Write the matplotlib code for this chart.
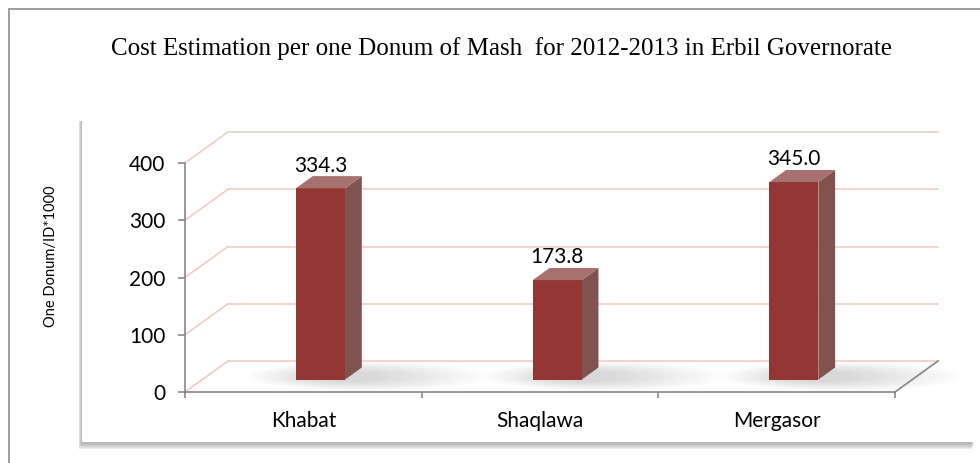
import matplotlib.pyplot as plt
from matplotlib.patches import Polygon, Rectangle, Ellipse
import numpy as np

# data
regions = ['Khabat', 'Shaqlawa', 'Mergasor']
costs = [334.3, 173.8, 345.0]
yticks = [0, 100, 200, 300, 400]
title = 'Cost Estimation per one Donum of Mash  for 2012-2013 in Erbil Governorate'
ylabel = 'One Donum/ID*1000'

W, H = 980, 463
fig = plt.figure(figsize=(W / 100, H / 100), dpi=100)
fig.patch.set_facecolor('white')

def fx(px):
    return px / W

def fy(py):
    return 1 - py / H

# outer chart frame (runs off right/bottom edge)
fig.patches.append(Rectangle((fx(9), fy(H + 20)), fx(W + 20), fy(9) - fy(H + 20),
                             transform=fig.transFigure, fill=False,
                             edgecolor='#8c8c8c', lw=1.2, zorder=-3))

# plot area box with soft shadow (mostly below)
bx0, by0, bx1, by1 = 82, 115, 975, 442
for k in range(7):
    fig.patches.append(Rectangle((fx(bx0 - 1 - k * 0.4), fy(by1 + 2 + k * 0.9)),
                                 fx(bx1 - bx0), fy(by0 + 6) - fy(by1 + 2 + k * 0.9),
                                 transform=fig.transFigure, facecolor='#000000',
                                 alpha=0.045, lw=0, zorder=-2))
fig.patches.append(Rectangle((fx(bx0), fy(by1)), fx(bx1 - bx0), fy(by0) - fy(by1),
                             transform=fig.transFigure, facecolor='white', lw=0, zorder=-1))

ax = fig.add_axes([fx(185), fy(392), fx(895 - 185), fy(163) - fy(392)])
ax.set_facecolor('none')
ax.set_xlim(0, 3)
ax.set_ylim(0, 400)

# depth offset (oblique 3D look) in data units
DX = 43 / ((895 - 185) / 3)
DY = 31 / ((392 - 163) / 400)

grid_c = '#efc9c4'
axis_c = '#878787'

# back wall gridlines and left wall diagonals
for v in yticks:
    ax.plot([DX, 3 + DX], [v + DY, v + DY], color=grid_c, lw=1.1, clip_on=False, zorder=1)
    ax.plot([0, DX], [v, v + DY], color=grid_c, lw=1.1, clip_on=False, zorder=1)
# right floor edge
ax.plot([3, 3 + DX], [0, DY], color=axis_c, lw=1.2, clip_on=False, zorder=2)

x = np.arange(len(regions)) + 0.5
w = 0.207
d1, d2 = 0.40, 0.79

# soft floor shadows spreading to the right of each bar
for xi in x:
    cx = xi + d1 * DX + 0.2
    for k in range(10):
        ax.add_patch(Ellipse((cx - k * 0.01, 0.5 * DY), 1.0 - k * 0.08, 50 - k * 3.5,
                             facecolor='#707070', alpha=0.028, lw=0, clip_on=False, zorder=2))

front_c = '#943634'
side_c = '#815350'
top_c = '#a6716e'

ax.bar(x + d1 * DX, costs, width=w, bottom=d1 * DY, color=front_c, lw=0, zorder=4)
for xi, v in zip(x, costs):
    xl, xr = xi - w / 2, xi + w / 2
    side = [(xr + d1 * DX, d1 * DY), (xr + d2 * DX, d2 * DY),
            (xr + d2 * DX, v + d2 * DY), (xr + d1 * DX, v + d1 * DY)]
    top = [(xl + d1 * DX, v + d1 * DY), (xr + d1 * DX, v + d1 * DY),
           (xr + d2 * DX, v + d2 * DY), (xl + d2 * DX, v + d2 * DY)]
    ax.add_patch(Polygon(side, closed=True, facecolor=side_c, lw=0, clip_on=False, zorder=3))
    ax.add_patch(Polygon(top, closed=True, facecolor=top_c, lw=0, clip_on=False, zorder=5))
    ax.text(xi + d1 * DX, v + d2 * DY + 1, f'{v:.1f}', ha='center', va='bottom',
            fontsize=15, family='Lato', color='black', zorder=6)

# axes styling
for s in ['top', 'right']:
    ax.spines[s].set_visible(False)
for s in ['left', 'bottom']:
    ax.spines[s].set_color(axis_c)
    ax.spines[s].set_linewidth(1.2)
    ax.spines[s].set_zorder(2)

ax.set_yticks(yticks)
ax.set_yticklabels([str(t) for t in yticks], fontsize=15, family='Lato')
ax.tick_params(axis='y', length=5, width=1.2, color=axis_c, pad=9)

ax.set_xticks([0, 1, 2, 3])
ax.set_xticklabels([])
ax.tick_params(axis='x', which='major', length=4.5, width=1.2, color=axis_c)
ax.set_xticks(x, minor=True)
ax.set_xticklabels(regions, minor=True, fontsize=15, family='Lato')
ax.tick_params(axis='x', which='minor', length=0, pad=14)

fig.text(fx(501), fy(55), title, ha='center', va='baseline',
         fontsize=18, family='Liberation Serif', color='black')
fig.text(fx(51), fy(256), ylabel, ha='center', va='center', rotation=90,
         fontsize=10.5, family='Lato', color='black')

fig.savefig('out.png', dpi=100)
